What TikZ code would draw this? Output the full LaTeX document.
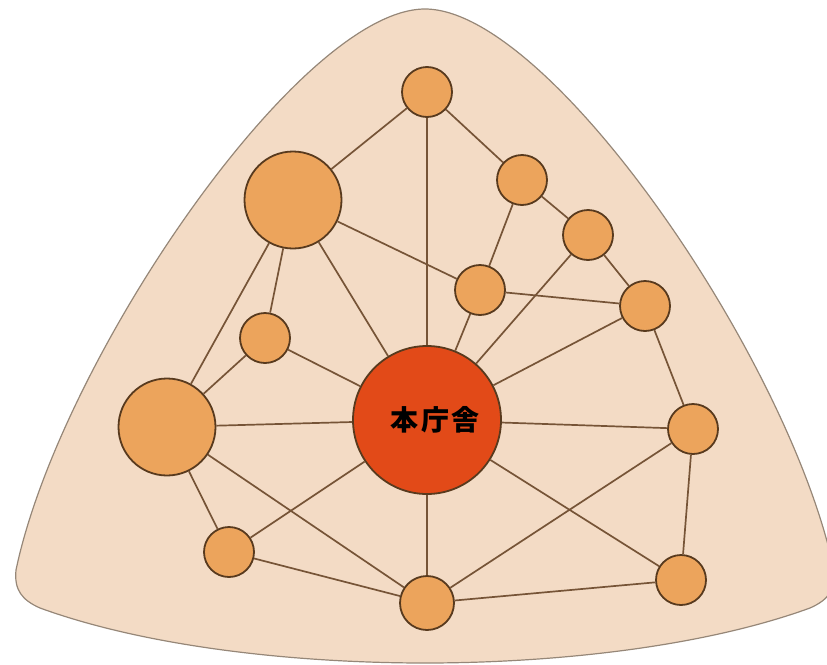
\documentclass[tikz,border=0pt]{standalone}
\usepackage{fontspec}
\newfontfamily\cjk{Noto Sans CJK JP}
\definecolor{bgfill}{RGB}{243,219,197}
\definecolor{bgline}{RGB}{150,135,120}
\definecolor{nodefill}{RGB}{236,164,92}
\definecolor{nodeline}{RGB}{88,58,30}
\definecolor{edgecol}{RGB}{118,84,55}
\definecolor{mainfill}{RGB}{226,74,24}
\tikzset{
  hub/.style={circle, draw=nodeline, line width=1.8pt, fill=nodefill, inner sep=0pt},
  small/.style={hub, minimum size=50pt},
  large/.style={hub, minimum size=97pt},
  mainhub/.style={circle, draw=nodeline, line width=1.8pt, fill=mainfill, inner sep=0pt, minimum size=148pt, font=\cjk\bfseries\fontsize{28}{30}\selectfont},
  link/.style={draw=edgecol, line width=1.7pt}
}
\begin{document}
\begin{tikzpicture}[x=1pt,y=-1pt]
\useasboundingbox (0,0) rectangle (827,664);
\begin{scope}
\clip (0,0) rectangle (827,664);
\draw[fill=bgfill, draw=bgline, line width=1.2pt]
 (425,9) .. controls (550,9) and (790,360) .. (834,570)
 .. controls (836,590) and (828,600) .. (810,608)
 .. controls (700,648) and (550,663) .. (425,663)
 .. controls (300,663) and (150,648) .. (40,608)
 .. controls (22,600) and (14,590) .. (16,570)
 .. controls (60,360) and (300,9) .. (425,9) -- cycle;
\end{scope}
\node[small] (T) at (427,92) {};
\node[large] (BL) at (293,200) {};
\node[small] (A) at (522,180) {};
\node[small] (B) at (588,235) {};
\node[small] (C) at (480,290) {};
\node[small] (D) at (645,306) {};
\node[small] (E) at (265,338) {};
\node[large] (LL) at (167,427) {};
\node[mainhub] (M) at (427,420) {\hspace*{16pt}本\hspace{3pt}庁\hspace{3pt}舎};
\node[small] (F) at (693,429) {};
\node[small] (G) at (229,552) {};
\node[small, minimum size=54pt] (H) at (427,603) {};
\node[small] (K) at (681,580) {};
\foreach \a/\b in {T/BL,T/M,T/A,A/B,A/C,B/D,B/M,C/D,C/M,BL/C,BL/LL,BL/E,BL/M,D/M,D/F,E/LL,E/M,LL/M,LL/G,LL/H,G/M,G/H,M/H,M/K,F/M,F/H,F/K,H/K}
  \draw[link] (\a) -- (\b);
\end{tikzpicture}
\end{document}
